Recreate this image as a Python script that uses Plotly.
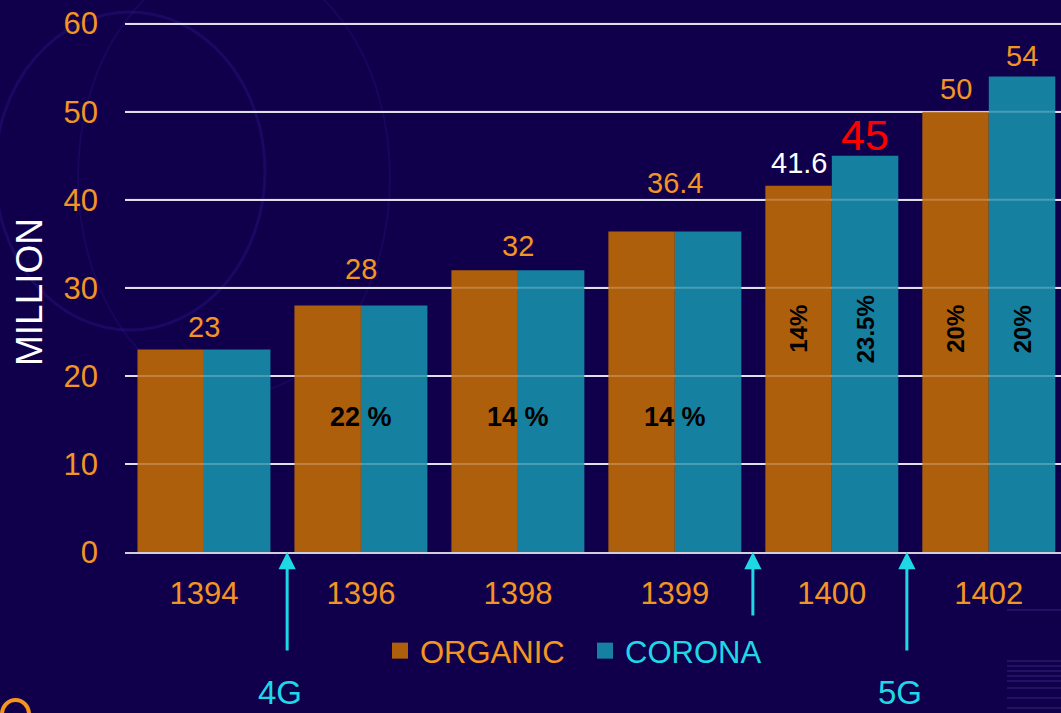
import plotly.graph_objects as go

# ---- data ----
years = ["1394", "1396", "1398", "1399", "1400", "1402"]
organic = [23, 28, 32, 36.4, 41.6, 50]
corona = [23, 28, 32, 36.4, 45, 54]
y_ticks = [0, 10, 20, 30, 40, 50, 60]

# value labels: (text, value, year, series)
value_labels = [
    ("23", 23, "1394", "group"),
    ("28", 28, "1396", "group"),
    ("32", 32, "1398", "group"),
    ("36.4", 36.4, "1399", "group"),
    ("41.6", 41.6, "1400", "organic"),
    ("45", 45, "1400", "corona"),
    ("50", 50, "1402", "organic"),
    ("54", 54, "1402", "corona"),
]
# label styles (colour, size, pixel lift above bar top)
label_styles = [
    ("#f39522", 29, 22), ("#f39522", 29, 36), ("#f39522", 29, 24), ("#f39522", 29, 48),
    ("#ffffff", 29, 23), ("#ff0000", 43, 21), ("#f39522", 29, 23), ("#f39522", 29, 20),
]

# growth labels
growth_h = [("22 %", "1396"), ("14 %", "1398"), ("14 %", "1399")]
growth_v = [("14%", "1400", "organic"), ("23.5%", "1400", "corona"),
            ("20%", "1402", "organic"), ("20%", "1402", "corona")]
growth_h_y = 15.3
growth_v_y = 25.3

# technology milestones: (label, x position between groups, arrow length px)
milestones = [("4G", 0.53, 100), ("", 3.497, 65), ("5G", 4.478, 100)]

ORANGE = "#ae5f0b"
TEAL = "#15809f"
CYAN = "#1fd8e6"
TXT_OR = "#f39522"
BG = "#10004c"
FONT = "Liberation Sans, Arial, sans-serif"

# plot-area geometry in page pixels (for decoration placement)
PL, PR, PT, PB = 125, 1061, 21, 552
def px(xp):
    return (xp - PL) / (PR - PL)
def py(yp):
    return (PB - yp) / (PB - PT)

BARGAP = 0.153
half_bar = (1 - BARGAP) / 4
xs = list(range(len(years)))

fig = go.Figure()
fig.add_trace(go.Bar(x=xs, y=organic, name="ORGANIC", showlegend=False,
                     marker=dict(color=ORANGE, line=dict(width=0))))
fig.add_trace(go.Bar(x=xs, y=corona, name="CORONA", showlegend=False,
                     marker=dict(color=TEAL, line=dict(width=0))))
# legend entries with larger square swatches
fig.add_trace(go.Scatter(x=[None], y=[None], mode="markers", name="ORGANIC",
                         marker=dict(symbol="square", size=18, color=ORANGE)))
fig.add_trace(go.Scatter(x=[None], y=[None], mode="markers",
                         name="<span style='color:%s'>CORONA</span>" % CYAN,
                         marker=dict(symbol="square", size=18, color=TEAL)))

ann = []
off = {"group": 0.0, "organic": -half_bar, "corona": half_bar}
for (txt, val, yr, ser), (col, size, lift) in zip(value_labels, label_styles):
    i = years.index(yr)
    ann.append(dict(x=i + off[ser], y=val, xref="x", yref="y",
                    text=txt, showarrow=False, yanchor="middle", yshift=lift,
                    font=dict(color=col, size=size, family=FONT)))
for txt, yr in growth_h:
    i = years.index(yr)
    ann.append(dict(x=i, y=growth_h_y, xref="x", yref="y", text="<b>%s</b>" % txt,
                    showarrow=False, font=dict(color="#000000", size=27, family=FONT)))
for txt, yr, ser in growth_v:
    i = years.index(yr)
    ann.append(dict(x=i + off[ser], y=growth_v_y, xref="x", yref="y", text="<b>%s</b>" % txt,
                    showarrow=False, textangle=-90,
                    font=dict(color="#000000", size=24, family=FONT)))
for txt, xpos, length in milestones:
    ann.append(dict(x=xpos, y=0, xref="x", yref="y", text="", showarrow=True,
                    ax=0, ay=length, arrowhead=2, arrowsize=1.15, arrowwidth=3,
                    arrowcolor=CYAN, standoff=0))
    if txt:
        ann.append(dict(x=xpos - 0.045, y=py(712), xref="x", yref="paper", text=txt,
                        showarrow=False, yanchor="bottom", borderpad=0,
                        font=dict(color=CYAN, size=33, family=FONT)))
ann.append(dict(x=px(29), y=py(292), xref="paper", yref="paper",
                xanchor="center", yanchor="middle",
                text="MILLION", textangle=-90, showarrow=False,
                font=dict(color="#ffffff", size=37, family=FONT)))

shapes = [
    dict(type="circle", xref="paper", yref="paper", x0=px(-5), x1=px(265), y0=py(330), y1=py(12),
         line=dict(color="rgba(70,50,200,0.18)", width=3), layer="below"),
    dict(type="circle", xref="paper", yref="paper", x0=px(78), x1=px(390), y0=py(395), y1=py(-40),
         line=dict(color="rgba(70,50,200,0.13)", width=2), layer="below"),
    # orange ring in the lower-left corner of the slide
    dict(type="circle", xref="paper", yref="paper", x0=px(2), x1=px(29), y0=py(728), y1=py(700),
         line=dict(color="#f7941d", width=4), layer="below"),
]
# faint stripes at the lower right of the slide
for yp in [610, 661, 666, 671, 676, 681, 688, 698, 708]:
    shapes.append(dict(type="line", xref="paper", yref="paper", x0=px(1007), x1=1,
                       y0=py(yp), y1=py(yp),
                       line=dict(color="rgba(90,70,170,0.25)", width=2), layer="below"))
# faint gridline show-through on top of the bars
for t in y_ticks[1:]:
    shapes.append(dict(type="line", xref="paper", yref="y", x0=0, x1=1, y0=t, y1=t,
                       line=dict(color="rgba(255,255,255,0.22)", width=2), layer="above"))

fig.update_layout(
    width=1061, height=713,
    margin=dict(l=PL, r=0, t=PT, b=713 - PB),
    paper_bgcolor=BG, plot_bgcolor="rgba(0,0,0,0)",
    barmode="group", bargap=BARGAP, bargroupgap=0,
    font=dict(family=FONT, color=TXT_OR),
    showlegend=True,
    legend=dict(orientation="h", x=px(585), xanchor="center",
                y=py(651), yanchor="middle",
                font=dict(size=31, color=TXT_OR, family=FONT),
                bgcolor="rgba(0,0,0,0)", itemwidth=30,
                entrywidth=160, entrywidthmode="pixels"),
    annotations=ann,
    shapes=shapes,
    xaxis=dict(tickmode="array", tickvals=xs, ticktext=years,
               range=[-0.503, 5.46], showgrid=False, zeroline=False,
               showline=True, linecolor="#d0d0dc", linewidth=2,
               ticks="", tickfont=dict(size=31, color=TXT_OR, family=FONT),
               ticklabelstandoff=13),
    yaxis=dict(range=[0, 60.3], tickmode="array", tickvals=y_ticks,
               showgrid=True, gridcolor="#d8d8e4", gridwidth=2,
               zeroline=False, showline=False, ticks="",
               tickfont=dict(size=31, color=TXT_OR, family=FONT),
               ticklabelstandoff=26),
)

fig.write_html("out.html", config={"displayModeBar": False},
               post_script="document.body.style.margin='0';document.body.style.background='%s';" % BG)
